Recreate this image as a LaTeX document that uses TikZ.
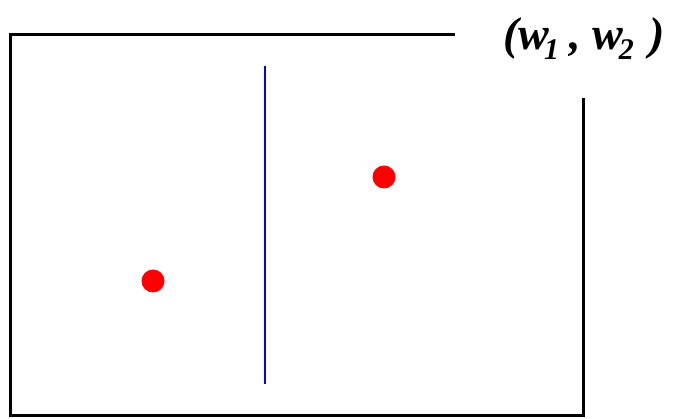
\documentclass[tikz,border=0pt]{standalone}
\usepackage{fontspec}
\setmainfont{Liberation Serif}
\begin{document}
\begin{tikzpicture}[x=1pt,y=-1pt,
  frame/.style={line width=3pt,draw=black},
  sep/.style={line width=2.5pt,draw=blue},
  dot/.style={circle,fill=red,inner sep=0pt,minimum size=23pt},
  lbl/.style={inner sep=0pt,font=\fontsize{46}{46}\selectfont\bfseries\itshape}]
\useasboundingbox (0,0) rectangle (677,419);
\draw[frame] (455,35) -- (10,35) -- (10,415) -- (583,415) -- (583,98);
\draw[sep] (265,66) -- (265,384);
\node[dot] (p1) at (153,281) {};
\node[dot] (p2) at (384,177) {};
\node[lbl,anchor=base west] (w) at (503,50) {(w\kern-5pt\raisebox{-10pt}{\fontsize{30}{30}\selectfont 1}\kern10pt, w\kern-4pt\raisebox{-10pt}{\fontsize{30}{30}\selectfont 2}\kern16pt)};
\end{tikzpicture}
\end{document}
